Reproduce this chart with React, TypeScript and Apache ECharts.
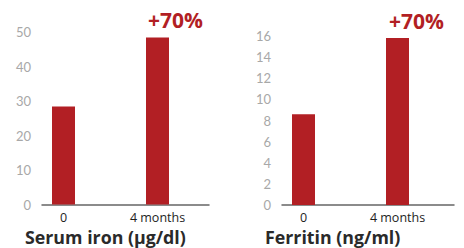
import React, { useEffect, useRef } from "react";
import * as echarts from "echarts";

const categories = ["0", "4 months"];
const serumIron = [28.5, 48.5];
const ferritin = [8.6, 15.8];
const changeLabels = ["", "+70%"];
const titles = ["Serum iron (µg/dl)", "Ferritin (ng/ml)"];

const RED = "#b21f24";

export default function App() {
  const ref = useRef<HTMLDivElement>(null);
  useEffect(() => {
    if (!ref.current) return;
    const chart = echarts.init(ref.current, undefined, { renderer: "svg" });
    const yLabel = { color: "#a8a8a8", fontSize: 13, fontFamily: "Lato", margin: 11 };
    const xLabel = { color: "#1e1e1e", fontSize: 12.5, fontWeight: 500, fontFamily: "Open Sans", margin: 6 };
    const barLabel = {
      show: true,
      position: "top",
      distance: 7,
      fontSize: 21,
      fontWeight: "bold",
      fontFamily: "Open Sans",
      color: RED,
      formatter: (p: any) => changeLabels[p.dataIndex],
    };
    chart.setOption({
      animation: false,
      grid: [
        { left: 42, top: 32.3, width: 167, height: 172.3 },
        { left: 16.5, top: 32.3, width: 188, height: 172.3 },
        { left: 282, top: 36, width: 172, height: 169 },
        { left: 256.5, top: 36, width: 188, height: 169 },
      ],
      xAxis: [
        { gridIndex: 0, type: "category", data: categories, axisLine: { lineStyle: { color: "#666", width: 1.5 } }, axisTick: { show: false }, axisLabel: { show: false } },
        { gridIndex: 1, type: "category", data: categories, axisLine: { show: false }, axisTick: { show: false }, axisLabel: xLabel },
        { gridIndex: 2, type: "category", data: categories, axisLine: { lineStyle: { color: "#666", width: 1.5 } }, axisTick: { show: false }, axisLabel: { show: false } },
        { gridIndex: 3, type: "category", data: categories, axisLine: { show: false }, axisTick: { show: false }, axisLabel: xLabel },
      ],
      yAxis: [
        { gridIndex: 0, type: "value", min: 0, max: 50, interval: 10, axisLine: { show: false }, axisTick: { show: false }, splitLine: { show: false }, axisLabel: yLabel },
        { gridIndex: 1, type: "value", min: 0, max: 50, show: false, splitLine: { show: false } },
        { gridIndex: 2, type: "value", min: 0, max: 16, interval: 2, axisLine: { show: false }, axisTick: { show: false }, splitLine: { show: false }, axisLabel: yLabel },
        { gridIndex: 3, type: "value", min: 0, max: 16, show: false, splitLine: { show: false } },
      ],
      series: [
        {
          type: "bar", xAxisIndex: 1, yAxisIndex: 1, data: serumIron, barWidth: 23,
          itemStyle: { color: RED }, z: 1,
          label: { ...barLabel, offset: [18, 0] },
        },
        {
          type: "bar", xAxisIndex: 3, yAxisIndex: 3, data: ferritin, barWidth: 23,
          itemStyle: { color: RED }, z: 1,
          label: { ...barLabel, offset: [19, 0] },
        },
      ],
      graphic: [
        { type: "text", left: 25, top: 227.5, style: { text: titles[0], fontSize: 17.8, fontWeight: "bold", fontFamily: "Open Sans", fill: "#2a2a2a" } },
        { type: "text", left: 265, top: 227.5, style: { text: titles[1], fontSize: 17.8, fontWeight: "bold", fontFamily: "Open Sans", fill: "#2a2a2a" } },
      ],
    });
    return () => chart.dispose();
  }, []);
  return <div ref={ref} style={{ position: "fixed", left: 0, top: 0, width: 464, height: 248, background: "#fff" }} />;
}
